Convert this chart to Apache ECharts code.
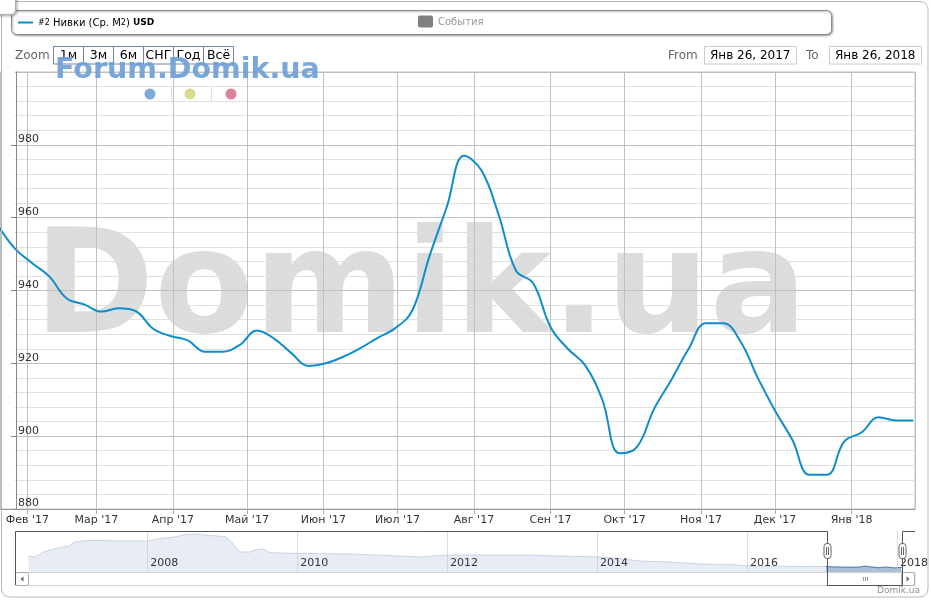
<!DOCTYPE html>
<html><head><meta charset="utf-8">
<script src="https://cdn.jsdelivr.net/npm/echarts@6/dist/echarts.min.js"></script>
<style>html,body{margin:0;padding:0;background:#fff}#c{width:931px;height:600px}</style>
</head><body><div id="c"></div>
<script>
// ---- data ----
const weekDates = ['2017-01-20','2017-01-27','2017-02-03','2017-02-10','2017-02-17','2017-02-24','2017-03-03','2017-03-10','2017-03-17','2017-03-24','2017-03-31','2017-04-07','2017-04-14','2017-04-21','2017-04-28','2017-05-05','2017-05-12','2017-05-19','2017-05-26','2017-06-02','2017-06-09','2017-06-16','2017-06-23','2017-06-30','2017-07-07','2017-07-14','2017-07-21','2017-07-28','2017-08-04','2017-08-11','2017-08-18','2017-08-25','2017-09-01','2017-09-08','2017-09-15','2017-09-22','2017-09-29','2017-10-06','2017-10-13','2017-10-20','2017-10-27','2017-11-03','2017-11-10','2017-11-17','2017-11-24','2017-12-01','2017-12-08','2017-12-15','2017-12-22','2017-12-29','2018-01-05','2018-01-12','2018-01-19','2018-01-26'];
const weekValues = [958,951.5,947.5,943.8,937.8,936.2,934.2,935.1,934.3,929.5,927.5,926.3,923.2,923.2,925,929,926.8,922.8,919.3,920,921.8,924.2,927,929.6,934.5,949.5,963,977,973,960.8,945.5,942,930,924,919.5,910,895.3,897,907.5,915.5,924,931,931,926,916,907,899,889.4,889.4,898.5,901,905.2,904.3,904.3];
const navDates = ['2006-06-01','2006-07-01','2006-08-15','2006-10-01','2006-11-15','2006-12-20','2007-01-10','2007-02-15','2007-04-01','2007-07-01','2007-10-01','2008-01-01','2008-03-01','2008-05-15','2008-07-01','2008-08-20','2008-11-01','2009-01-15','2009-02-15','2009-03-25','2009-05-15','2009-06-20','2009-07-20','2009-08-20','2009-10-01','2010-01-15','2010-09-15','2011-05-15','2011-08-20','2011-11-25','2012-03-01','2013-02-01','2013-07-01','2014-01-15','2014-04-20','2014-07-25','2014-12-20','2015-05-15','2015-10-10','2016-01-15','2016-09-15','2017-01-20'];
const navValues = [1440,1395,1626,1765,1860,1900,2090,2135,2160,2150,2140,2135,2250,2320,2435,2460,2390,2345,2090,1626,1626,1740,1765,1600,1580,1557,1533,1441,1395,1464,1487,1487,1441,1395,1325,1209,1163,1070,1047,978,955,958];
const navYearTicks = ['2008-01-01','2010-01-01','2012-01-01','2014-01-01','2016-01-01','2018-01-01'];
const monthNames = ['Янв','Фев','Мар','Апр','Май','Июн','Июл','Авг','Сен','Окт','Ноя','Дек'];
const zoomButtons = ['1м','3м','6м','СНГ','Год','Всё'];
const seriesName = 'Нивки (Ср. М2)';
const rangeFrom = '2017-01-26', rangeTo = '2018-01-26';
const rangeFromLabel = 'Янв 26, 2017', rangeToLabel = 'Янв 26, 2018';

const FONT = 'DejaVu Sans, Verdana, sans-serif';
const LINE = '#0e8dcc';
const DAY = 86400000;

function ts(s) { const p = s.split('-').map(Number); return new Date(p[0], p[1] - 1, p[2]).getTime(); }

const chart = echarts.init(document.getElementById('c'), null, {renderer: 'canvas'});

const mainData = weekDates.map((d, i) => [d, weekValues[i]]);
const mainNavData = weekDates.map((d, i) => [ts(d), weekValues[i]]);
const navData = navDates.map((d, i) => [ts(d), navValues[i]]);
const yearTickValues = navYearTicks.map(ts);

function t(x, y, text, style, z) {
  return {type: 'text', x, y, z: z || 10, style: Object.assign({text, fontFamily: FONT, fontSize: 12, fill: '#000', verticalAlign: 'middle', align: 'left'}, style)};
}

const staticGraphic = [];
staticGraphic.push({type: 'text', x: 34, y: 294, z: -5, silent: true,
  style: {text: 'Domik.ua', fontFamily: FONT, fontWeight: 'bold', fontSize: 145, fill: '#dcdcdc', verticalAlign: 'middle'}});
staticGraphic.push({type: 'rect', z: 1, shape: {x: 1.5, y: 71, width: 13.5, height: 437}, style: {fill: '#fff'}});
staticGraphic.push({type: 'rect', z: 20, shape: {x: 1.5, y: 1.5, width: 926.5, height: 595.5, r: 8}, style: {fill: 'none', stroke: '#b8b8b8', lineWidth: 1}});
staticGraphic.push({type: 'rect', z: 21, shape: {x: -6, y: -6, width: 21.5, height: 20.5, r: 4}, style: {fill: '#fff', stroke: '#b0b0b0', shadowBlur: 3, shadowColor: 'rgba(0,0,0,0.3)', shadowOffsetX: 1, shadowOffsetY: 1}});
staticGraphic.push({type: 'rect', z: 8, shape: {x: 11.5, y: 10.5, width: 820, height: 24, r: 5}, style: {fill: '#fff', stroke: '#8c8c8c', shadowBlur: 2, shadowColor: 'rgba(0,0,0,0.35)', shadowOffsetX: 1, shadowOffsetY: 1}});
staticGraphic.push({type: 'line', z: 10, shape: {x1: 18, y1: 22.5, x2: 33, y2: 22.5}, style: {stroke: LINE, lineWidth: 2}});
staticGraphic.push(t(38, 23, '{s|#2} {n|' + seriesName.slice(0, -2) + '}{s|2}{n|)} {b|USD}', {
  fontSize: 10, rich: {s: {fontSize: 8, fontFamily: FONT, fill: '#000'}, n: {fontSize: 10, fontFamily: FONT, fill: '#000'}, b: {fontSize: 9, fontWeight: 'bold', fontFamily: FONT, fill: '#000'}}}));
staticGraphic.push({type: 'rect', z: 10, shape: {x: 418, y: 15.5, width: 15, height: 12, r: 2}, style: {fill: '#7f7f7f'}});
staticGraphic.push(t(438, 22.5, 'События', {fontSize: 10, fill: '#999'}));
staticGraphic.push(t(15, 56, 'Zoom', {fontSize: 12, fill: '#666'}));
zoomButtons.forEach((b, i) => {
  staticGraphic.push({type: 'rect', z: 9, shape: {x: 53.5 + 30 * i, y: 46.5, width: 30, height: 17.5}, style: {fill: '#fff', stroke: '#6d87a8'}});
  staticGraphic.push(t(68.5 + 30 * i, 56, b, {fontSize: 12.5, align: 'center', fill: '#000'}));
});
staticGraphic.push(t(668, 56, 'From', {fontSize: 12, fill: '#666'}));
staticGraphic.push({type: 'rect', z: 9, shape: {x: 704.5, y: 46.5, width: 92, height: 17.5}, style: {fill: '#fff', stroke: '#ccc'}});
staticGraphic.push(t(710, 56, rangeFromLabel, {fontSize: 12, fill: '#000'}));
staticGraphic.push(t(806, 56, 'To', {fontSize: 12, fill: '#666'}));
staticGraphic.push({type: 'rect', z: 9, shape: {x: 829.5, y: 46.5, width: 92, height: 17.5}, style: {fill: '#fff', stroke: '#ccc'}});
staticGraphic.push(t(835, 56, rangeToLabel, {fontSize: 12, fill: '#000'}));
staticGraphic.push({type: 'text', x: 55, y: 70.5, z: 12, silent: true,
  style: {text: 'Forum.Domik.ua', fontFamily: FONT, fontWeight: 'bold', fontSize: 28.5, fill: 'rgba(110,160,215,0.92)', verticalAlign: 'middle'}});
[['#7ea9da', 150], ['#d9dc8e', 190], ['#dc8299', 231]].forEach(([c, x]) => {
  staticGraphic.push({type: 'circle', z: 12, shape: {cx: x, cy: 94, r: 5.5}, style: {fill: c}});
});
[171, 211].forEach(x => staticGraphic.push({type: 'line', z: 12, shape: {x1: x + 0.5, y1: 87, x2: x + 0.5, y2: 101}, style: {stroke: '#ddd'}}));
staticGraphic.push(t(920, 591, 'Domik.ua', {fontSize: 9, fill: '#909090', align: 'right'}));

const option = {
  backgroundColor: '#fff',
  animation: false,
  textStyle: {fontFamily: FONT},
  grid: [
    {left: 0, right: 16, top: 72, bottom: 91, show: true, borderColor: '#c0c0c0', borderWidth: 1},
    {left: 15, right: 16, top: 531, height: 41, show: false}
  ],
  xAxis: [
    {type: 'time', gridIndex: 0, min: '2017-01-20 22:30', max: '2018-01-26 17:00',
      minInterval: 28 * DAY, maxInterval: 31 * DAY, splitNumber: 12,
      axisLine: {lineStyle: {color: '#999'}},
      axisTick: {show: true, length: 5, lineStyle: {color: '#aaa'}},
      splitLine: {show: true, lineStyle: {color: '#c0c0c0'}},
      axisLabel: {fontSize: 11, color: '#333', fontFamily: FONT, margin: 6, hideOverlap: false,
        formatter: v => { const d = new Date(v); return monthNames[d.getMonth()] + " '" + String(d.getFullYear()).slice(2); }}
    },
    {type: 'value', gridIndex: 1, min: ts('2006-03-28'), max: ts('2018-03-28'), z: 5,
      axisLine: {show: false},
      axisTick: {show: false, customValues: yearTickValues},
      splitLine: {show: true, lineStyle: {color: 'rgba(200,200,200,0.6)'}},
      axisLabel: {inside: true, customValues: yearTickValues, fontSize: 11, color: '#333', fontFamily: FONT, margin: 3, align: 'left', padding: [0, 0, 0, 3], hideOverlap: false,
        formatter: v => String(new Date(v).getFullYear())}
    }
  ],
  yAxis: [
    {type: 'value', gridIndex: 0, min: 880, max: 1000, interval: 20,
      axisLine: {show: false}, axisTick: {show: false}, axisLabel: {show: false},
      splitLine: {show: true, lineStyle: {color: '#c0c0c0'}},
      minorTick: {show: false, splitNumber: 5},
      minorSplitLine: {show: true, lineStyle: {color: '#e0e0e0'}}
    },
    {type: 'value', gridIndex: 0, min: 880, max: 1000, interval: 20, position: 'left', offset: -16, z: 3,
      axisLine: {show: true, lineStyle: {color: '#888'}},
      axisTick: {show: true, length: 5, lineStyle: {color: '#888'}},
      splitLine: {show: false},
      axisLabel: {inside: true, margin: 2, verticalAlign: 'bottom', showMaxLabel: false, fontSize: 11, color: '#333', fontFamily: FONT}
    },
    {type: 'value', gridIndex: 1, min: 700, max: 2600, show: false, splitLine: {show: false}}
  ],
  series: [
    {name: seriesName, type: 'line', xAxisIndex: 0, yAxisIndex: 0, data: mainData, smooth: 0.4,
      symbol: 'none', lineStyle: {color: LINE, width: 2}, itemStyle: {color: LINE}, z: 2, clip: true},
    {type: 'line', xAxisIndex: 1, yAxisIndex: 2, data: navData, symbol: 'none', silent: true,
      lineStyle: {color: '#c9d4e6', width: 1}, areaStyle: {color: '#e8ecf5', opacity: 1}},
    {type: 'line', xAxisIndex: 1, yAxisIndex: 2, data: mainNavData, symbol: 'none', silent: true,
      lineStyle: {color: '#4572a7', width: 1}, areaStyle: {color: 'rgba(69,114,167,0.45)', opacity: 1}}
  ],
  graphic: {elements: staticGraphic}
};
chart.setOption(option);

const xs = Math.round(chart.convertToPixel({xAxisIndex: 1}, ts(rangeFrom))) + 0.5;
const xe = Math.round(chart.convertToPixel({xAxisIndex: 1}, ts(rangeTo))) + 0.5;
const nav = [];
nav.push({type: 'rect', z: 9, shape: {x: 15.5, y: 572.5, width: 899.5, height: 13}, style: {fill: '#fff', stroke: '#cfcfcf'}});
nav.push({type: 'rect', z: 10, shape: {x: 15.5, y: 572.5, width: 13, height: 13, r: 2}, style: {fill: '#fff', stroke: '#aaa'}});
nav.push({type: 'polygon', z: 11, shape: {points: [[23.5, 576.5], [20.5, 579], [23.5, 581.5]]}, style: {fill: '#666'}});
nav.push({type: 'rect', z: 10, shape: {x: 901.5, y: 572.5, width: 13, height: 13, r: 2}, style: {fill: '#fff', stroke: '#aaa'}});
nav.push({type: 'polygon', z: 11, shape: {points: [[906.5, 576.5], [909.5, 579], [906.5, 581.5]]}, style: {fill: '#666'}});
nav.push({type: 'polyline', z: 12, shape: {points: [[15.5, 585], [15.5, 531.5], [xs, 531.5], [xs, 585.5], [xe, 585.5], [xe, 531.5], [915, 531.5]]}, style: {stroke: '#555', lineWidth: 1, fill: null}});
const mid = (xs + xe) / 2;
[-2, 0, 2].forEach(d => nav.push({type: 'line', z: 13, shape: {x1: Math.round(mid + d) + 0.5, y1: 577, x2: Math.round(mid + d) + 0.5, y2: 581}, style: {stroke: '#999'}}));
[xs, xe].forEach(x => {
  nav.push({type: 'rect', z: 14, shape: {x: x - 3.5, y: 543.5, width: 7, height: 15, r: 3}, style: {fill: '#fff', stroke: '#666'}});
  nav.push({type: 'line', z: 15, shape: {x1: x - 1, y1: 547, x2: x - 1, y2: 555}, style: {stroke: '#666'}});
  nav.push({type: 'line', z: 15, shape: {x1: x + 1, y1: 547, x2: x + 1, y2: 555}, style: {stroke: '#666'}});
});
chart.setOption({graphic: {elements: staticGraphic.concat(nav)}}, {replaceMerge: ['graphic']});
</script>
</body></html>
